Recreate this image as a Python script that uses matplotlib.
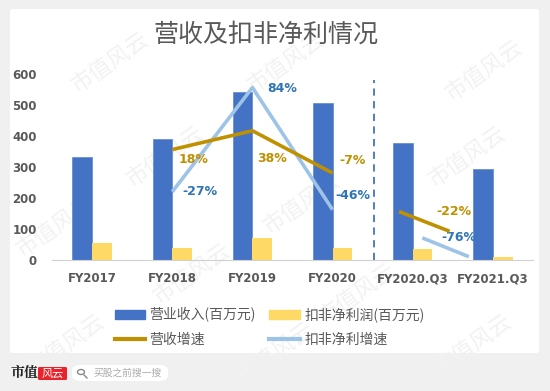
import numpy as np
import matplotlib.pyplot as plt
from matplotlib.patches import FancyBboxPatch, Circle
from matplotlib.lines import Line2D

plt.rcParams['font.family'] = ['Noto Sans CJK SC', 'DejaVu Sans']

# 数据
categories = ['FY2017', 'FY2018', 'FY2019', 'FY2020', 'FY2020.Q3', 'FY2021.Q3']
revenue = [333, 390, 541, 505, 376, 293]          # 营业收入(百万元)
profit = [54, 39, 70, 39, 35, 9]                  # 扣非净利润(百万元)
rev_growth = [18, 38, -7]                         # 营收增速 % (FY2018-FY2020)
profit_growth = [-27, 84, -46]                    # 扣非净利增速 % (FY2018-FY2020)
q3_rev_growth = -22
q3_profit_growth = -76
# 季度对比的手绘线段 (位置为类别序号, 数值为增速轴上的值)
q3_rev_seg_x = [3.83, 4.46]
q3_rev_seg_y = [-48, -69]
q3_profit_seg_x = [4.12, 4.70]
q3_profit_seg_y = [-76, -96]

BLUE = '#4472C4'
YELLOW = '#FFD966'
GOLD = '#BF9000'
LBLUE = '#9DC3E6'
TBLUE = '#2E75B6'
GRAY = '#595959'

fig = plt.figure(figsize=(5.5, 3.91), dpi=100)
fig.patch.set_facecolor('#f0f0f0')

# 白色面板
panel = FancyBboxPatch((10 / 550, 1 - 353 / 391), 529 / 550, 344 / 391,
                       boxstyle='round,pad=0,rounding_size=0.005',
                       transform=fig.transFigure, facecolor='white',
                       edgecolor='none', zorder=-3)
fig.patches.append(panel)

# 水印
for wx, wy in [(0.2, 0.84), (0.52, 0.84), (0.88, 0.82), (0.3, 0.6), (0.55, 0.48),
               (0.85, 0.6), (0.1, 0.42), (0.35, 0.3), (0.65, 0.25), (0.12, 0.12),
               (0.5, 0.1), (0.86, 0.12)]:
    fig.text(wx, wy, '市值风云', fontsize=16, color='#f2f2f2', rotation=35,
             ha='center', va='center', zorder=-2)

fig.text(266 / 550, 1 - 35 / 391, '营收及扣非净利情况', fontsize=18, color=GRAY,
         ha='center', va='center')

ax = fig.add_axes([52 / 550, 1 - 260 / 391, 481 / 550, 186 / 391])
ax.set_zorder(1)
ax.set_facecolor('none')
x = np.arange(len(categories))
w = 0.245
ax.bar(x - w / 2, revenue, w, color=BLUE, edgecolor='#6a8fd4', linewidth=0.6, zorder=2)
ax.bar(x + w / 2, profit, w, color=YELLOW, zorder=2)

ax.set_xlim(-0.5, 5.5)
ax.set_ylim(0, 600)
ax.set_yticks([0, 100, 200, 300, 400, 500, 600])
ax.set_xticks(x)
ax.set_xticklabels(categories)
for s in ['top', 'right', 'left']:
    ax.spines[s].set_visible(False)
ax.spines['bottom'].set_color('#d0d0d0')
ax.tick_params(length=0)
ax.tick_params(axis='y', pad=11, labelsize=8.5, labelcolor=GRAY)
ax.tick_params(axis='x', pad=9, labelsize=8.5, labelcolor=GRAY)
for lbl in ax.get_xticklabels() + ax.get_yticklabels():
    lbl.set_fontweight('bold')
    lbl.set_family(['DejaVu Sans'])

# 分隔虚线
ax.axvline(3.52, ymin=0, ymax=0.97, color=BLUE, linestyle=(0, (4, 3)), linewidth=1.3, zorder=1)

ax2 = ax.twinx()
ax2.set_zorder(2)
ax2.set_ylim(-99.5, 98.4)
ax2.axis('off')
gx = x[1:4]
ax2.plot(gx, rev_growth, color=GOLD, linewidth=2.6, zorder=4, solid_capstyle='butt')
ax2.plot(gx, profit_growth, color=LBLUE, linewidth=2.6, zorder=3, solid_capstyle='butt')
ax2.plot(q3_rev_seg_x, q3_rev_seg_y, color=GOLD, linewidth=2.6, zorder=4, solid_capstyle='butt')
ax2.plot(q3_profit_seg_x, q3_profit_seg_y, color=LBLUE, linewidth=2.6, zorder=3,
         solid_capstyle='butt')

lab_kw = dict(textcoords='offset pixels', ha='center', va='center',
              fontsize=9, fontweight='bold', family=['DejaVu Sans'])
rev_offsets = [(21, -10), (20, -28), (20, 13)]
for xi, v, off in zip(gx, rev_growth, rev_offsets):
    ax2.annotate(f'{v}%', (xi, v), xytext=off, color=GOLD, **lab_kw)
prof_offsets = [(28, 0), (30, -1), (20, 14)]
for xi, v, off in zip(gx, profit_growth, prof_offsets):
    ax2.annotate(f'{v}%', (xi, v), xytext=off, color=TBLUE, **lab_kw)
ax2.annotate(f'{q3_rev_growth}%', (q3_rev_seg_x[1], q3_rev_seg_y[1]), xytext=(4, 20),
             color=GOLD, **lab_kw)
ax2.annotate(f'{q3_profit_growth}%', (q3_profit_seg_x[1], q3_profit_seg_y[1]),
             xytext=(-10, 19), color=TBLUE, **lab_kw)

# 图例 (按列填充: 第一行柱, 第二行线)
handles = [plt.Rectangle((0, 0), 1, 1, color=BLUE),
           Line2D([0], [0], color=GOLD, linewidth=3),
           plt.Rectangle((0, 0), 1, 1, color=YELLOW),
           Line2D([0], [0], color=LBLUE, linewidth=3)]
labels = ['营业收入(百万元)', '营收增速', '扣非净利润(百万元)', '扣非净利增速']
fig.legend(handles, labels, ncol=2, loc='upper left', bbox_to_anchor=(102 / 550, 1 - 295 / 391),
           frameon=False, fontsize=10, labelcolor=GRAY, handlelength=2.2,
           handleheight=0.6, columnspacing=1.0, handletextpad=0.3, labelspacing=0.75)

# 页脚
fig.text(11 / 550, 1 - 373 / 391, '市值', fontsize=10, fontweight='bold', color='#222222',
         ha='left', va='center', family=['Noto Serif CJK SC', 'Noto Sans CJK SC'])
fig.patches.append(FancyBboxPatch((38 / 550, 1 - 380 / 391), 29 / 550, 13 / 391,
                                  boxstyle='round,pad=0,rounding_size=0.003',
                                  transform=fig.transFigure, facecolor='#e8232b',
                                  edgecolor='none'))
fig.text(52.5 / 550, 1 - 373.5 / 391, '风云', fontsize=8, color='white', style='italic',
         ha='center', va='center')
fig.patches.append(FancyBboxPatch((72 / 550, 1 - 381 / 391), 96 / 550, 16 / 391,
                                  boxstyle='round,pad=0,rounding_size=0.015',
                                  transform=fig.transFigure, facecolor='white',
                                  edgecolor='none'))
fig.patches.append(Circle((81 / 550, 1 - 372 / 391), 3.5 / 550, transform=fig.transFigure,
                          facecolor='none', edgecolor='#888888', linewidth=1))
fig.add_artist(Line2D([84 / 550, 87 / 550], [1 - 375 / 391, 1 - 378 / 391],
                      transform=fig.transFigure, color='#888888', linewidth=1))
fig.text(93 / 550, 1 - 373 / 391, '买股之前搜一搜', fontsize=7, color='#aaaaaa',
         ha='left', va='center')

plt.savefig('out.png', dpi=100, facecolor=fig.get_facecolor())
